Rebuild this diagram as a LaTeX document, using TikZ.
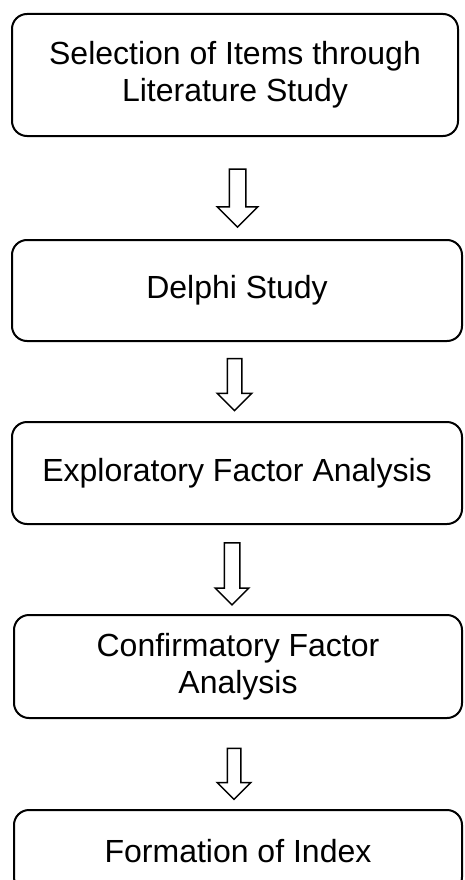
\documentclass[tikz,border=0pt]{standalone}
\usepackage{fontspec}
\setmainfont{Liberation Sans}
\usepackage{tikz}
\usetikzlibrary{shapes.arrows}

\tikzset{
	stepbox/.style={draw, line width=2pt, rounded corners=15pt, align=center, inner sep=0pt, font=\fontsize{32}{37}\selectfont},
	downarrow/.style={single arrow, draw, line width=1.5pt, shape border rotate=270, inner sep=7.5pt, single arrow head extend=12pt, minimum width=39pt}
}

\begin{document}
\begin{tikzpicture}[x=1pt,y=-1pt]
		\useasboundingbox (0,0) rectangle (464,880);
		
		\coordinate (S1) at (235,75);
		\coordinate (S2) at (237,290.5);
		\coordinate (S3) at (237,473);
		\coordinate (S4) at (238,666.5);
		\coordinate (S5) at (238,851);
		
		\node[stepbox, minimum width=446pt, minimum height=122pt] (sel) at (S1) {Selection of Items through\\Literature Study};
		\node[stepbox, minimum width=450pt, minimum height=101pt] (delphi) at (S2) {Delphi Study};
		\node[stepbox, minimum width=450pt, minimum height=102pt] (efa) at (S3) {Exploratory Factor Analysis};
		\node[stepbox, minimum width=448pt, minimum height=103pt] (cfa) at (S4) {Confirmatory Factor\\Analysis};
		\node[stepbox, minimum width=448pt, minimum height=82pt] (index) at (S5) {Formation of Index};
		
		\node[downarrow, minimum height=58pt] (a1) at (237.5,194) {};
		\node[downarrow, minimum height=52pt, inner sep=6.5pt, single arrow head extend=10pt, minimum width=32pt] (a2) at (234.5,381) {};
		\node[downarrow, minimum height=62pt, inner sep=7pt, single arrow head extend=9pt, minimum width=32pt] (a3) at (232,570) {};
		\node[downarrow, minimum height=51pt, inner sep=6pt, single arrow head extend=10pt, minimum width=32pt] (a4) at (234,770.5) {};
	\end{tikzpicture}
\end{document}
